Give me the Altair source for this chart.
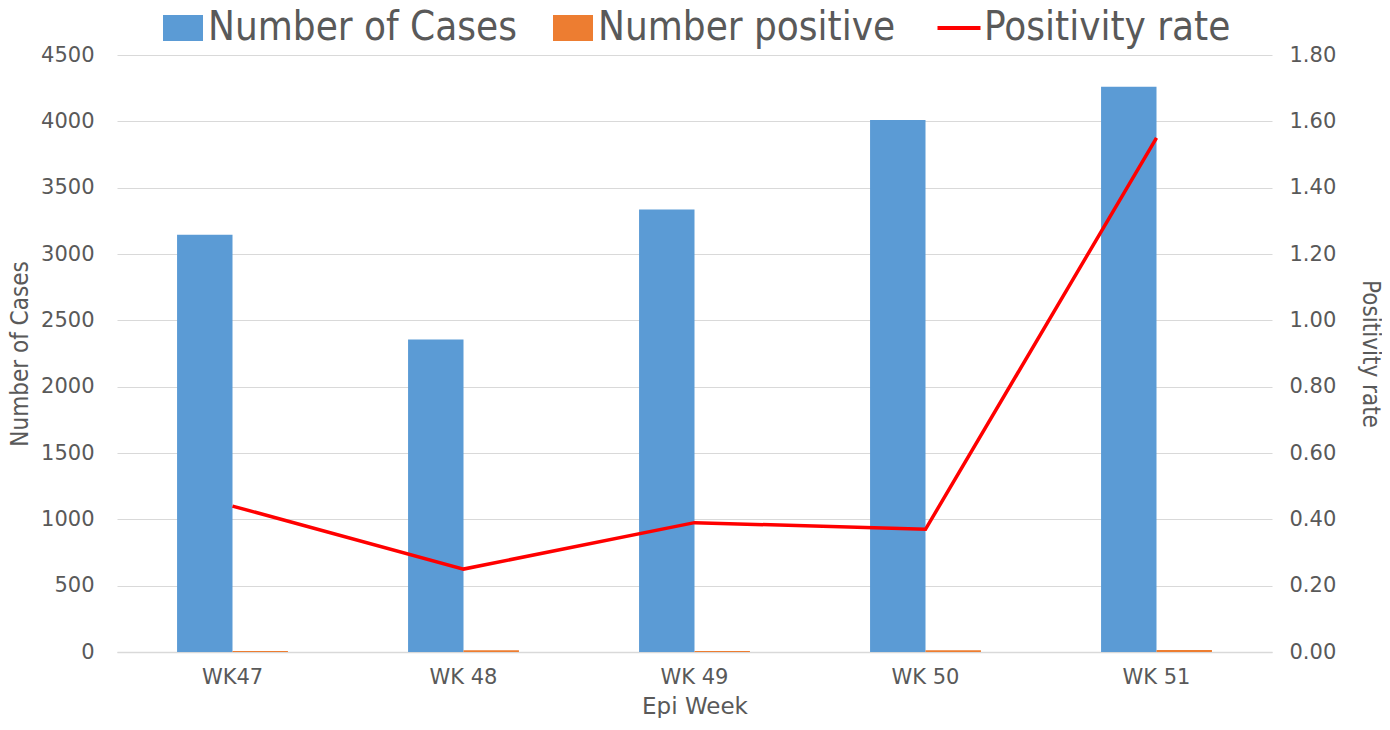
import altair as alt
import pandas as pd

weeks = ["WK47", "WK 48", "WK 49", "WK 50", "WK 51"]
cases = [3145, 2355, 3335, 4010, 4260]
positive = [7, 14, 7, 14, 15]
rate = [0.44, 0.25, 0.39, 0.37, 1.55]
series_bars = ["Number of Cases", "Number positive"]
series_line = ["Positivity rate"]
left_ticks = list(range(0, 4501, 500))
right_ticks = [round(i * 0.2, 2) for i in range(10)]

bars_df = pd.DataFrame({
    "week": weeks * 2,
    "series": [series_bars[0]] * 5 + [series_bars[1]] * 5,
    "value": cases + positive,
})
line_df = pd.DataFrame({"week": weeks, "rate": rate, "series": series_line * 5})

GRAY = "#595959"
TICKFONT = "DejaVu Sans"
TITLEFONT = "DejaVu Sans Condensed, Liberation Sans Narrow, Roboto"

x_enc = alt.X(
    "week:N", sort=weeks, title="Epi Week",
    scale=alt.Scale(paddingInner=0.52, paddingOuter=0.26),
    axis=alt.Axis(labelAngle=0, ticks=False, domainColor="#d9d9d9", domainWidth=1.5,
                  labelFont=TICKFONT, labelFontSize=21, labelColor=GRAY, labelPadding=14,
                  titleFont=TICKFONT, titleFontSize=23, titleColor=GRAY, titleFontWeight="normal",
                  titlePadding=8),
)

bars = alt.Chart(bars_df).mark_bar().encode(
    x=x_enc,
    xOffset=alt.XOffset("series:N", sort=series_bars, scale=alt.Scale(paddingInner=0, paddingOuter=0)),
    y=alt.Y("value:Q", title="Number of Cases",
            scale=alt.Scale(domain=[0, 4500], nice=False),
            axis=alt.Axis(values=left_ticks, format="d", grid=True, gridColor="#d9d9d9",
                          domain=False, ticks=False,
                          labelFont=TICKFONT, labelFontSize=21, labelColor=GRAY, labelPadding=23,
                          titleFont=TITLEFONT, titleFontSize=24, titleColor=GRAY,
                          titleFontWeight="normal", titlePadding=8)),
    color=alt.Color("series:N", sort=series_bars,
                    scale=alt.Scale(domain=series_bars, range=["#5b9bd5", "#ed7d31"]),
                    legend=alt.Legend(orient="none", legendX=46, legendY=-47, direction="horizontal",
                                      title=None, symbolType="M-1,-0.65L1,-0.65L1,0.65L-1,0.65Z",
                                      symbolSize=1600, symbolStrokeWidth=0, labelFont=TITLEFONT,
                                      labelFontSize=40, labelColor=GRAY, labelOffset=5,
                                      columnPadding=36, padding=0, labelLimit=500)),
)

line = alt.Chart(line_df).mark_line(strokeWidth=3.5).encode(
    x=alt.X("week:N", sort=weeks),
    y=alt.Y("rate:Q", title="Positivity rate",
            scale=alt.Scale(domain=[0, 1.8], nice=False),
            axis=alt.Axis(orient="right", values=right_ticks, format=".2f", grid=False, domain=False,
                          ticks=False, labelFont=TICKFONT, labelFontSize=21, labelColor=GRAY,
                          labelPadding=17, titleFont=TITLEFONT, titleFontSize=24, titleColor=GRAY,
                          titleFontWeight="normal", titlePadding=22)),
    stroke=alt.Stroke("series:N",
                      scale=alt.Scale(domain=series_line, range=["#ff0000"]),
                      legend=alt.Legend(orient="none", legendX=822, legendY=-47, title=None,
                                        symbolType="M-1.5,0L1.5,0", symbolSize=822,
                                        symbolStrokeWidth=4, labelFont=TITLEFONT, labelFontSize=40,
                                        labelColor=GRAY, labelOffset=5, padding=0, labelLimit=500)),
)

chart = alt.layer(bars, line).resolve_scale(
    y="independent", color="independent", stroke="independent"
).properties(
    width=1155, height=597, padding={"left": 0, "top": 0, "right": 0, "bottom": 0}
).configure_view(stroke=None)

chart.save("out.html", embed_options={"renderer": "svg", "actions": False})
